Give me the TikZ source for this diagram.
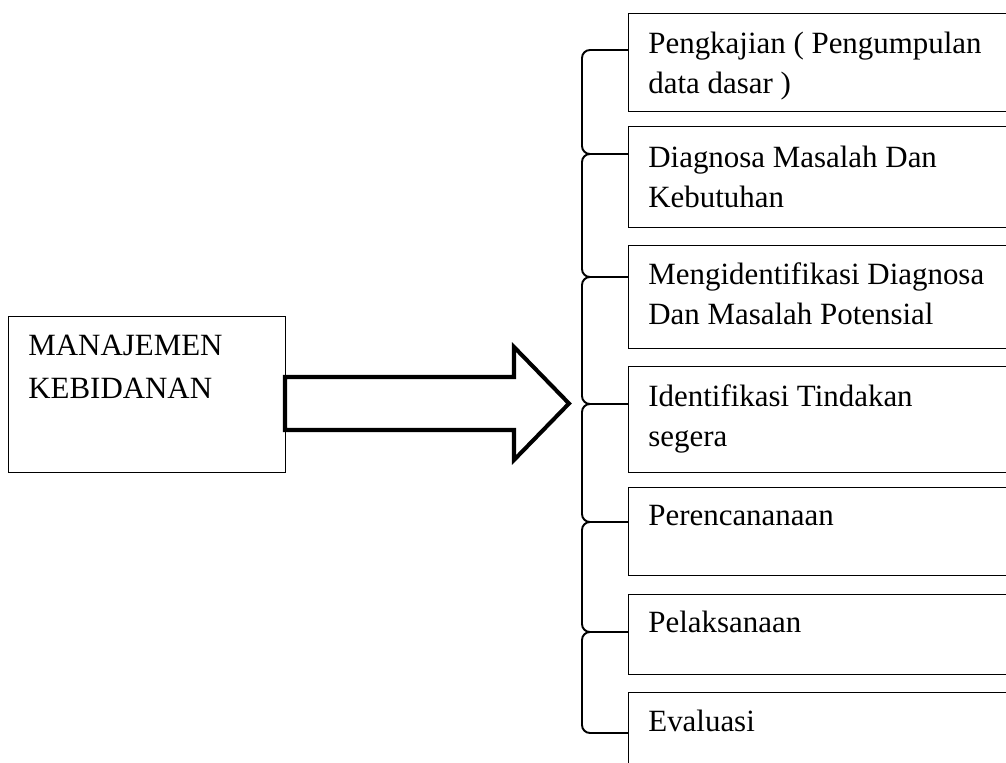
\documentclass[tikz,border=0pt]{standalone}
\usepackage{fontspec}
\setmainfont{Liberation Serif}
\begin{document}
\begin{tikzpicture}[
	kotak/.style={draw, line width=0.75pt, anchor=north west, inner sep=0pt},
	isi/.style={anchor=base west, align=left, inner sep=0pt, font=\fontsize{17.6}{23.3}\selectfont},
	kurung/.style={line width=1.1pt, rounded corners=0.16cm},
	panah/.style={line width=2.3pt, miter limit=20}
	]
		\useasboundingbox (0,0) rectangle (20.12,15.24);
		\clip (0,0) rectangle (20.12,15.24);
		
		% kotak kiri
		\node[kotak, minimum width=5.54cm, minimum height=3.12cm] (manajemen) at (0.16,8.92) {};
		\node[isi, font=\fontsize{17.6}{25}\selectfont] (tmanajemen) at (0.56,7.26) {MANAJEMEN\\KEBIDANAN};
		
		% panah besar
		\draw[panah] (5.7,7.7) -- (10.28,7.7) -- (10.28,8.3) -- (11.38,7.17) -- (10.28,6.04) -- (10.28,6.64) -- (5.7,6.64) -- cycle;
		
		% kotak kanan
		\node[kotak, minimum width=9cm, minimum height=1.96cm] (b1) at (12.56,14.98) {};
		\node[kotak, minimum width=9cm, minimum height=2.02cm] (b2) at (12.56,12.72) {};
		\node[kotak, minimum width=9cm, minimum height=2.06cm] (b3) at (12.56,10.34) {};
		\node[kotak, minimum width=9cm, minimum height=2.12cm] (b4) at (12.56,7.92) {};
		\node[kotak, minimum width=9cm, minimum height=1.76cm] (b5) at (12.56,5.50) {};
		\node[kotak, minimum width=9cm, minimum height=1.60cm] (b6) at (12.56,3.36) {};
		\node[kotak, minimum width=9cm, minimum height=2.00cm] (b7) at (12.56,1.40) {};
		
		% baris terakhir tiap teks
		\node[isi] (t1) at (12.96,13.36) {Pengkajian ( Pengumpulan\\data dasar )};
		\node[isi] (t2) at (12.96,11.08) {Diagnosa Masalah Dan\\Kebutuhan};
		\node[isi] (t3) at (12.96,8.74) {Mengidentifikasi Diagnosa\\Dan Masalah Potensial};
		\node[isi] (t4) at (12.96,6.30) {Identifikasi Tindakan\\segera};
		\node[isi] (t5) at (12.96,4.72) {Perencananaan};
		\node[isi] (t6) at (12.96,2.58) {Pelaksanaan};
		\node[isi] (t7) at (12.96,0.62) {Evaluasi};
		
		% kurung
		\coordinate (j1) at (11.64,14.24);
		\coordinate (j2) at (11.64,12.16);
		\coordinate (j3) at (11.64,9.70);
		\coordinate (j4) at (11.64,7.16);
		\coordinate (j5) at (11.64,4.80);
		\coordinate (j6) at (11.64,2.60);
		\coordinate (j7) at (11.64,0.58);
		
		\draw[kurung] (j1 -| b1.west) -- (j1) -- (j2) -- (j2 -| b2.west);
		\draw[kurung] (j2 -| b2.west) -- (j2) -- (j3) -- (j3 -| b3.west);
		\draw[kurung] (j3 -| b3.west) -- (j3) -- (j4) -- (j4 -| b4.west);
		\draw[kurung] (j4 -| b4.west) -- (j4) -- (j5) -- (j5 -| b5.west);
		\draw[kurung] (j5 -| b5.west) -- (j5) -- (j6) -- (j6 -| b6.west);
		\draw[kurung] (j6 -| b6.west) -- (j6) -- (j7) -- (j7 -| b7.west);
	\end{tikzpicture}
\end{document}
